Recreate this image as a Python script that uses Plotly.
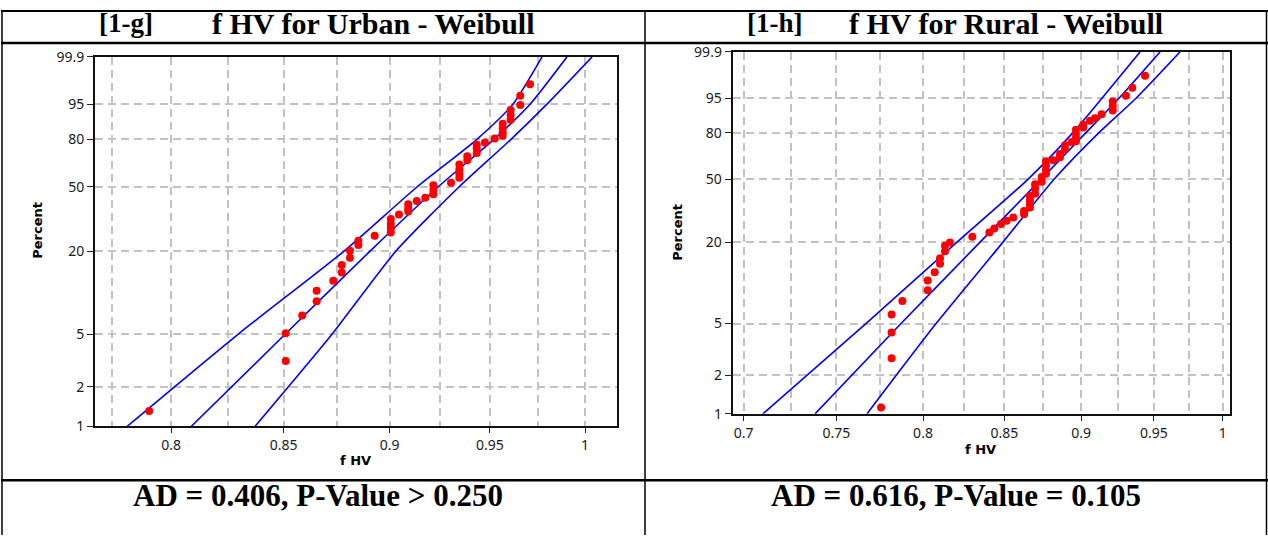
import numpy as np
import plotly.graph_objects as go

# ---------------- data: [1-g] Urban ----------------
urban_fhv = [0.9708, 0.9657, 0.9657, 0.9607, 0.9607, 0.9607, 0.9566, 0.9566, 0.9566, 0.9566,
             0.9525, 0.9475, 0.9433, 0.9433, 0.9433, 0.9385, 0.9385, 0.9345, 0.9345, 0.9345,
             0.9345, 0.9303, 0.9215, 0.9215, 0.9215, 0.9175, 0.9133, 0.9091, 0.9091, 0.9091,
             0.9046, 0.9006, 0.9006, 0.9006, 0.9006, 0.8928, 0.8850, 0.8850, 0.8810, 0.8810,
             0.8771, 0.8771, 0.8731, 0.8653, 0.8653, 0.8586, 0.8510, 0.8510, 0.7906]
urban_pct = [98.6, 96.9, 94.8, 93.3, 91.6, 89.7, 88.0, 85.9, 83.9, 82.0,
             80.5, 78.2, 76.9, 74.5, 71.8, 69.7, 67.1, 64.3, 61.1, 58.3,
             55.8, 52.6, 51.0, 48.2, 45.6, 43.6, 41.8, 40.0, 37.9, 36.2,
             34.7, 32.5, 30.2, 28.5, 26.7, 25.4, 23.5, 22.0, 20.1, 18.0,
             16.0, 14.2, 12.4, 10.5, 8.8, 6.9, 5.1, 3.15, 1.31]
band_pct = [1.0, 5.0, 20.0, 50.0, 80.0, 95.0, 99.9]
urban_fit_fhv = [0.8087, 0.8507, 0.8906, 0.9238, 0.9521, 0.9708, 0.9903]
urban_upper_fhv = [0.7812, 0.8294, 0.8782, 0.9134, 0.9434, 0.9619, 0.9771]
urban_lower_fhv = [0.8370, 0.8725, 0.9031, 0.9343, 0.9609, 0.9797, 1.0038]

# ---------------- data: [1-h] Rural ----------------
rural_fhv = [0.7754, 0.7815, 0.7815, 0.7815, 0.7878, 0.8028, 0.8028, 0.8070, 0.8102, 0.8102,
             0.8132, 0.8132, 0.8162, 0.8299, 0.8405, 0.8436, 0.8478, 0.8514, 0.8556, 0.8625,
             0.8625, 0.8663, 0.8663, 0.8663, 0.8663, 0.8696, 0.8696, 0.8696, 0.8739, 0.8739,
             0.8767, 0.8767, 0.8767, 0.8767, 0.8815, 0.8859, 0.8859, 0.8892, 0.8892, 0.8937,
             0.8965, 0.8965, 0.8965, 0.8965, 0.9014, 0.9014, 0.9059, 0.9093, 0.9138, 0.9214,
             0.9214, 0.9214, 0.9305, 0.9349, 0.9438]
rural_pct = [1.12, 2.71, 4.28, 5.86, 7.42, 8.92, 10.57, 12.16, 13.99, 15.35,
             17.22, 18.88, 19.91, 21.80, 23.33, 24.83, 26.57, 27.94, 29.36, 30.89,
             32.43, 34.03, 35.73, 37.81, 40.13, 41.41, 44.28, 46.89, 48.47, 51.39,
             53.47, 56.05, 58.92, 61.75, 62.40, 64.38, 66.55, 69.43, 72.21, 74.29,
             74.73, 76.76, 79.15, 81.67, 82.93, 84.37, 86.38, 87.62, 89.40, 90.91,
             92.64, 94.03, 95.66, 97.33, 98.88]
rural_fit_fhv = [0.7382, 0.7870, 0.8347, 0.8735, 0.9032, 0.9257, 0.9544]
rural_upper_fhv = [0.7101, 0.7667, 0.8205, 0.8650, 0.8945, 0.9140, 0.9403]
rural_lower_fhv = [0.7673, 0.8078, 0.8491, 0.8820, 0.9120, 0.9375, 0.9687]

# ---------------- ticks & text ----------------
pct_ticks = [1, 2, 5, 20, 50, 80, 95, 99.9]
pct_ticktext = ["1", "2", "5", "20", "50", "80", "95", "99.9"]
urban_xticks = [0.8, 0.85, 0.9, 0.95, 1.0]
urban_xtext = ["0.8", "0.85", "0.9", "0.95", "1"]
urban_xminor = [0.775, 0.825, 0.875, 0.925, 0.975]
rural_xticks = [0.7, 0.75, 0.8, 0.85, 0.9, 0.95, 1.0]
rural_xtext = ["0.7", "0.75", "0.8", "0.85", "0.9", "0.95", "1"]
rural_xminor = [0.725, 0.775, 0.825, 0.875, 0.925, 0.975]

titles = [("[1-g]", "f HV for Urban - Weibull"), ("[1-h]", "f HV for Rural - Weibull")]
ad_texts = ["AD = 0.406, P-Value > 0.250", "AD = 0.616, P-Value = 0.105"]


def wb(p):
    """Weibull probability scale."""
    return np.log(-np.log(1 - np.asarray(p, dtype=float) / 100.0))


W, H = 1268, 544
# vertical placement accounts for the 8px body offset of the page (page is 560 tall)
TOP_OFF = 8
SQ = H / (H + 2 * TOP_OFF)
def px(x):
    return x / W
def py(y):
    return 1 - (y / SQ - TOP_OFF) / H

BLUE = "#0000FF"
RED = "#FF0000"
GRID = "#c2c2c2"
TICKFONT = dict(family="Noto Sans", size=14, color="#1a1a1a")

fig = go.Figure()

panels = [
    dict(fhv=urban_fhv, pct=urban_pct, lines=[urban_upper_fhv, urban_fit_fhv, urban_lower_fhv], xa="x", ya="y"),
    dict(fhv=rural_fhv, pct=rural_pct, lines=[rural_upper_fhv, rural_fit_fhv, rural_lower_fhv], xa="x2", ya="y2"),
]
for pnl in panels:
    for xs in pnl["lines"]:
        fig.add_trace(go.Scatter(x=xs, y=wb(band_pct), mode="lines", xaxis=pnl["xa"], yaxis=pnl["ya"],
                                 line=dict(color=BLUE, width=1.6, shape="spline", smoothing=0.6),
                                 hoverinfo="skip"))
    fig.add_trace(go.Scatter(x=pnl["fhv"], y=wb(pnl["pct"]), mode="markers", xaxis=pnl["xa"], yaxis=pnl["ya"],
                             marker=dict(color=RED, size=8, line=dict(width=0)), cliponaxis=False))

def xaxis_cfg(domain, rng, tv, tt, minor, anchor):
    return dict(domain=domain, anchor=anchor, type="log", range=rng,
                tickmode="array", tickvals=tv, ticktext=tt, ticks="outside", ticklen=5, tickwidth=1,
                tickcolor="#222", tickfont=TICKFONT, showline=True, linecolor="#111", linewidth=2,
                mirror=True, showgrid=True, gridcolor=GRID, gridwidth=1.5, griddash="8px,5px",
                zeroline=False,
                minor=dict(tickmode="array", tickvals=minor, showgrid=True, gridcolor=GRID,
                           gridwidth=1.5, griddash="8px,5px", ticks=""))

def yaxis_cfg(domain, anchor):
    return dict(domain=domain, anchor=anchor, range=[float(wb(1)), float(wb(99.9))],
                tickmode="array", tickvals=list(wb(pct_ticks)), ticktext=pct_ticktext,
                ticks="outside", ticklen=6, tickwidth=1, tickcolor="#222", tickfont=TICKFONT,
                showline=True, linecolor="#111", linewidth=2, mirror=True,
                showgrid=True, gridcolor=GRID, gridwidth=1.5, griddash="8px,5px", zeroline=False)

fig.update_layout(
    width=W, height=H, margin=dict(l=0, r=0, t=0, b=0, pad=0),
    paper_bgcolor="white", plot_bgcolor="white", showlegend=False,
    xaxis=xaxis_cfg([px(95), px(617)], [-0.11472, 0.007492], urban_xticks, urban_xtext, urban_xminor, "y"),
    yaxis=yaxis_cfg([py(427), py(55)], "x"),
    xaxis2=xaxis_cfg([px(732.7), px(1230)], [-0.15845, 0.002361], rural_xticks, rural_xtext, rural_xminor, "y2"),
    yaxis2=yaxis_cfg([py(414.3), py(50)], "x2"),
)

ann = []
TFONT = dict(family="Liberation Serif", size=30, color="black")
LFONT = dict(family="Liberation Serif", size=27, color="black")
ADFONT = dict(family="Liberation Serif", size=31, color="black")
# titles
ann.append(dict(x=px(126), y=py(21), text="<b>" + titles[0][0] + "</b>", font=LFONT))
ann.append(dict(x=px(373), y=py(21), text="<b>" + titles[0][1] + "</b>", font=TFONT))
ann.append(dict(x=px(775), y=py(21), text="<b>" + titles[1][0] + "</b>", font=LFONT))
ann.append(dict(x=px(1006), y=py(21), text="<b>" + titles[1][1] + "</b>", font=TFONT))
# AD lines
ann.append(dict(x=px(318), y=py(496), text="<b>" + ad_texts[0] + "</b>", font=ADFONT))
ann.append(dict(x=px(956), y=py(496), text="<b>" + ad_texts[1] + "</b>", font=ADFONT))
# axis titles
AFONT = dict(family="DejaVu Sans", size=13, color="black")
ann.append(dict(x=px(38), y=py(230), text="<b>Percent</b>", textangle=-90, font=AFONT))
ann.append(dict(x=px(678), y=py(232), text="<b>Percent</b>", textangle=-90, font=AFONT))
ann.append(dict(x=px(355), y=py(461), text="<b>f HV</b>", font=AFONT))
ann.append(dict(x=px(980), y=py(450), text="<b>f HV</b>", font=AFONT))
for a in ann:
    a.update(xref="paper", yref="paper", showarrow=False, xanchor="center", yanchor="middle")
fig.update_layout(annotations=ann)

# table rules
shapes = []
def hline_paper(yp, x0, x1, w):
    shapes.append(dict(type="line", xref="paper", yref="paper", x0=px(x0), x1=px(x1), y0=yp, y1=yp,
                       line=dict(color="black", width=w)))
def vline(x, w):
    shapes.append(dict(type="line", xref="paper", yref="paper", x0=px(x), x1=px(x), y0=0, y1=0.998,
                       line=dict(color="black", width=w)))
hline_paper(0.998, 1, 1268, 2)
hline_paper(py(41), 1, 1268, 2.5)
hline_paper(py(481), 1, 1268, 2.5)
vline(2, 1.5)
vline(645, 1.5)
vline(1266.5, 1.5)
fig.update_layout(shapes=shapes)

fig.write_html("out.html", config={"displayModeBar": False})
